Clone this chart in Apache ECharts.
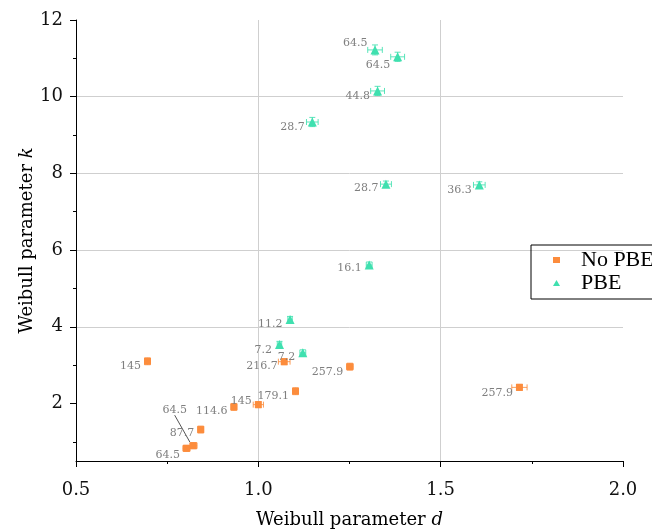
<!DOCTYPE html>
<html>
<head>
<meta charset="utf-8">
<script src="https://cdn.jsdelivr.net/npm/echarts@6/dist/echarts.min.js"></script>
<style>html,body{margin:0;padding:0;background:#fff;}#c{width:652px;height:532px;}</style>
</head>
<body>
<div id="c"></div>
<script>
// ---- data ----
const noPbeD    = [0.696, 1.071, 1.251, 1.102, 1.000, 0.933, 0.842, 0.803, 0.822, 1.716];
const noPbeK    = [3.10, 3.09, 2.96, 2.32, 1.97, 1.91, 1.32, 0.83, 0.90, 2.42];
const noPbeDErr = [0.008, 0.016, 0.009, 0.008, 0.014, 0.008, 0.008, 0.010, 0.010, 0.021];
const noPbeKErr = [0.09, 0.08, 0.09, 0.09, 0.08, 0.09, 0.09, 0.08, 0.08, 0.08];
const noPbeLabels = ['145', '216.7', '257.9', '179.1', '145', '114.6', '87.7', '64.5', '64.5', '257.9'];

const pbeD    = [1.320, 1.382, 1.327, 1.148, 1.350, 1.606, 1.304, 1.087, 1.058, 1.122];
const pbeK    = [11.22, 11.04, 10.15, 9.34, 7.72, 7.70, 5.61, 4.19, 3.54, 3.32];
const pbeDErr = [0.020, 0.019, 0.019, 0.016, 0.015, 0.016, 0.008, 0.006, 0.006, 0.008];
const pbeKErr = [0.13, 0.12, 0.12, 0.12, 0.08, 0.08, 0.08, 0.08, 0.08, 0.08];
const pbeLabels = ['64.5', '64.5', '44.8', '28.7', '28.7', '36.3', '16.1', '11.2', '7.2', '7.2'];

const xTicks = [0.5, 1.0, 1.5, 2.0];
const yTicks = [2, 4, 6, 8, 10, 12];
const yMinorTicks = [1, 3, 5, 7, 9, 11];

// ---- label layout (vertical shift of each point label, px) ----
const noPbeLabelDy = [5, 4, 5, 5, -3, 4, 4, 7, -36, 6];
const pbeLabelDy   = [-7, 8, 5, 5, 4, 5, 3, 5, 6, 4];
const noPbeLeader  = [8];

const ORANGE = '#fc8c3c';
const TEAL = '#3fe0af';
const SERIF = 'DejaVu Serif';

function errs(xs, ys, ex, ey) { return xs.map((x, i) => [x, ys[i], ex[i], ey[i]]); }

function errorRender(color) {
  return function (params, api) {
    const d = api.value(0), k = api.value(1), de = api.value(2), ke = api.value(3);
    const l = api.coord([d - de, k]), r = api.coord([d + de, k]);
    const t = api.coord([d, k + ke]), b = api.coord([d, k - ke]);
    const cap = 3;
    const st = { stroke: color, lineWidth: 1, opacity: 0.85 };
    return {
      type: 'group',
      children: [
        { type: 'line', shape: { x1: l[0], y1: l[1], x2: r[0], y2: r[1] }, style: st },
        { type: 'line', shape: { x1: l[0], y1: l[1] - cap, x2: l[0], y2: l[1] + cap }, style: st },
        { type: 'line', shape: { x1: r[0], y1: r[1] - cap, x2: r[0], y2: r[1] + cap }, style: st },
        { type: 'line', shape: { x1: t[0], y1: t[1], x2: b[0], y2: b[1] }, style: st },
        { type: 'line', shape: { x1: t[0] - cap, y1: t[1], x2: t[0] + cap, y2: t[1] }, style: st },
        { type: 'line', shape: { x1: b[0] - cap, y1: b[1], x2: b[0] + cap, y2: b[1] }, style: st }
      ]
    };
  };
}

function scatterData(xs, ys, leader) {
  return xs.map((x, i) => {
    const item = { value: [x, ys[i]] };
    if (leader && leader.indexOf(i) >= 0) {
      item.labelLine = { show: true, lineStyle: { color: '#555', width: 1 } };
    }
    return item;
  });
}

const labelStyle = {
  show: true, position: 'left', distance: 3,
  color: '#7f7f7f', fontFamily: SERIF, fontSize: 11
};

const chart = echarts.init(document.getElementById('c'), null, { renderer: 'canvas' });
chart.setOption({
  animation: false,
  backgroundColor: '#fff',
  grid: { left: 76, right: 29, top: 20, bottom: 71, containLabel: false, outerBoundsMode: 'none' },
  legend: {
    orient: 'vertical', left: 531, top: 245,
    borderColor: '#000', borderWidth: 1, borderRadius: 0,
    padding: [4, 30, 5, 22],
    itemWidth: 7, itemHeight: 6, itemGap: 1,
    textStyle: { fontFamily: 'Liberation Serif', fontSize: 22, color: '#000', padding: [0, 0, 0, 16] },
    data: [
      { name: 'No PBE', icon: 'rect' },
      { name: 'PBE', icon: 'triangle' }
    ]
  },
  xAxis: {
    type: 'value', min: xTicks[0], max: xTicks[xTicks.length - 1], interval: 0.5,
    name: 'Weibull parameter {i|d}', nameLocation: 'middle', nameGap: 50, nameMoveOverlap: false,
    nameTextStyle: { fontFamily: SERIF, fontSize: 18, color: '#000',
      rich: { i: { fontFamily: SERIF, fontSize: 18, fontStyle: 'italic', color: '#000' } } },
    axisLine: { show: true, onZero: false, lineStyle: { color: '#000', width: 1 } },
    axisTick: { show: true, inside: false, length: 6, lineStyle: { color: '#000' } },
    minorTick: { show: true, splitNumber: 2, length: 3, lineStyle: { color: '#000' } },
    axisLabel: { fontFamily: SERIF, fontSize: 18, color: '#111', margin: 20,
      formatter: v => v.toFixed(1) },
    splitLine: { show: true, showMinLine: false, showMaxLine: false, lineStyle: { color: '#cfcfcf', width: 1 } }
  },
  yAxis: [{
    type: 'value', min: 0.5, max: 12,
    name: 'Weibull parameter {i|k}', nameLocation: 'middle', nameGap: 40, nameMoveOverlap: false,
    nameTextStyle: { fontFamily: SERIF, fontSize: 18, color: '#000',
      rich: { i: { fontFamily: SERIF, fontSize: 18, fontStyle: 'italic', color: '#000' } } },
    axisLine: { show: true, onZero: false, lineStyle: { color: '#000', width: 1 } },
    axisTick: { show: true, inside: false, length: 6, customValues: yTicks, lineStyle: { color: '#000' } },
    axisLabel: { fontFamily: SERIF, fontSize: 18, color: '#111', margin: 13, customValues: yTicks },
    splitLine: { show: true, showMinLine: false, showMaxLine: false, lineStyle: { color: '#cfcfcf', width: 1 } }
  }, {
    type: 'value', min: 0.5, max: 12, position: 'left', offset: 0,
    axisLine: { show: false },
    axisTick: { show: true, inside: false, length: 3, customValues: yMinorTicks, lineStyle: { color: '#000' } },
    axisLabel: { show: false },
    splitLine: { show: false }
  }],
  series: [
    {
      name: 'No PBE', type: 'scatter', symbol: 'rect', symbolSize: 7, z: 4,
      itemStyle: { color: ORANGE, opacity: 1 },
      data: scatterData(noPbeD, noPbeK, noPbeLeader),
      label: Object.assign({}, labelStyle, { formatter: p => noPbeLabels[p.dataIndex] }),
      labelLayout: p => ({ dy: noPbeLabelDy[p.dataIndex] }),
      labelLine: { show: false }
    },
    {
      name: 'PBE', type: 'scatter', symbol: 'triangle', symbolSize: 9, z: 4,
      itemStyle: { color: TEAL, opacity: 1 },
      data: scatterData(pbeD, pbeK, null),
      label: Object.assign({}, labelStyle, { formatter: p => pbeLabels[p.dataIndex] }),
      labelLayout: p => ({ dy: pbeLabelDy[p.dataIndex] })
    },
    {
      name: 'No PBE', type: 'custom', z: 3,
      itemStyle: { color: ORANGE },
      renderItem: errorRender(ORANGE),
      encode: { x: 0, y: 1 },
      data: errs(noPbeD, noPbeK, noPbeDErr, noPbeKErr)
    },
    {
      name: 'PBE', type: 'custom', z: 3,
      itemStyle: { color: TEAL },
      renderItem: errorRender(TEAL),
      encode: { x: 0, y: 1 },
      data: errs(pbeD, pbeK, pbeDErr, pbeKErr)
    }
  ]
});
</script>
</body>
</html>
